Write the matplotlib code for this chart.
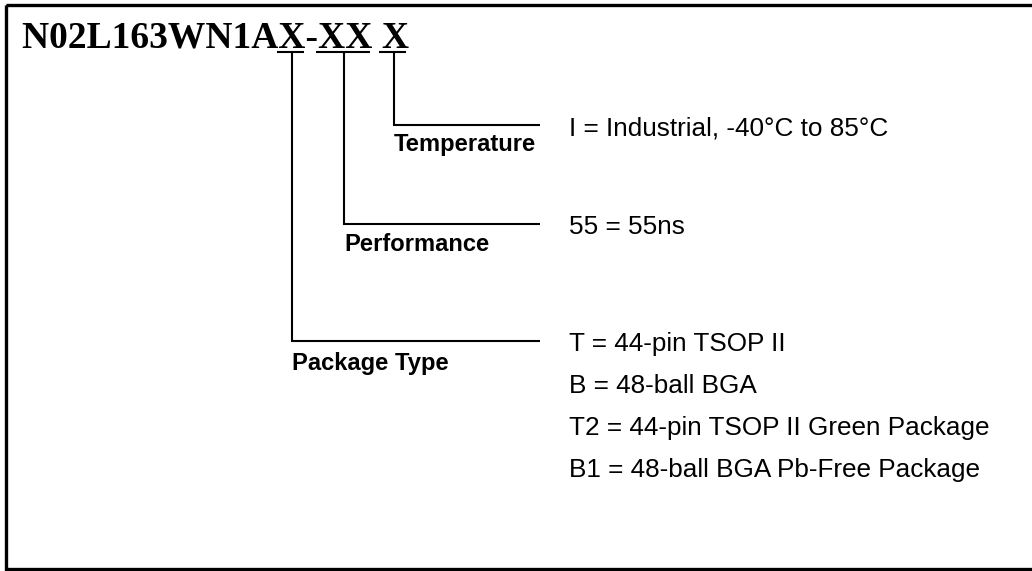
import matplotlib.pyplot as plt
from matplotlib.patches import Rectangle

# --- content ---
PART_NUMBER = "N02L163WN1AX-XX X"
FIELDS = ["Temperature", "Performance", "Package Type"]
OPTIONS = [
    ["I = Industrial, -40°C to 85°C"],
    ["55 = 55ns"],
    ["T = 44-pin TSOP II",
     "B = 48-ball BGA",
     "T2 = 44-pin TSOP II Green Package",
     "B1 = 48-ball BGA Pb-Free Package"],
]

# --- layout (pixel coordinates, y grows downward) ---
W, H = 1032, 571
UNDERLINE_Y = 52
UNDERLINES = [(394, 379, 406), (344, 316, 370), (292, 277, 304)]  # (stem x, x0, x1), same order as FIELDS
ROW_Y = [125, 224, 341]
LINE_END = 540
LABEL_BASE = [151, 251, 370]
OPT_X = 569
OPT_STEP = 41.7

fig = plt.figure(figsize=(W / 100, H / 100), dpi=100)
ax = fig.add_axes([0, 0, 1, 1])
ax.set_xlim(0, W)
ax.set_ylim(H, 0)
ax.axis("off")

# outer frame (right edge runs off the page)
ax.add_patch(Rectangle((6, 5), W + 20, 564, fill=False, lw=2.4, ec="black"))

ax.text(22, 47, PART_NUMBER, family="Liberation Serif", weight="bold",
        fontsize=27, va="baseline", ha="left")

lw = 1.5
for i, field in enumerate(FIELDS):
    sx, x0, x1 = UNDERLINES[i]
    y = ROW_Y[i]
    ax.plot([x0, x1], [UNDERLINE_Y, UNDERLINE_Y], color="black", lw=lw,
            solid_capstyle="butt")
    ax.plot([sx, sx, LINE_END], [UNDERLINE_Y, y, y], color="black", lw=lw,
            solid_joinstyle="miter", solid_capstyle="butt")
    ax.text(sx, LABEL_BASE[i], field, family="Liberation Sans", weight="bold",
            fontsize=17.1, va="baseline", ha="left")
    for j, opt in enumerate(OPTIONS[i]):
        ax.text(OPT_X, y + 10.5 + j * OPT_STEP, opt, family="Liberation Sans",
                fontsize=18.8, va="baseline", ha="left")

fig.savefig("out.png", dpi=100, facecolor="white")
